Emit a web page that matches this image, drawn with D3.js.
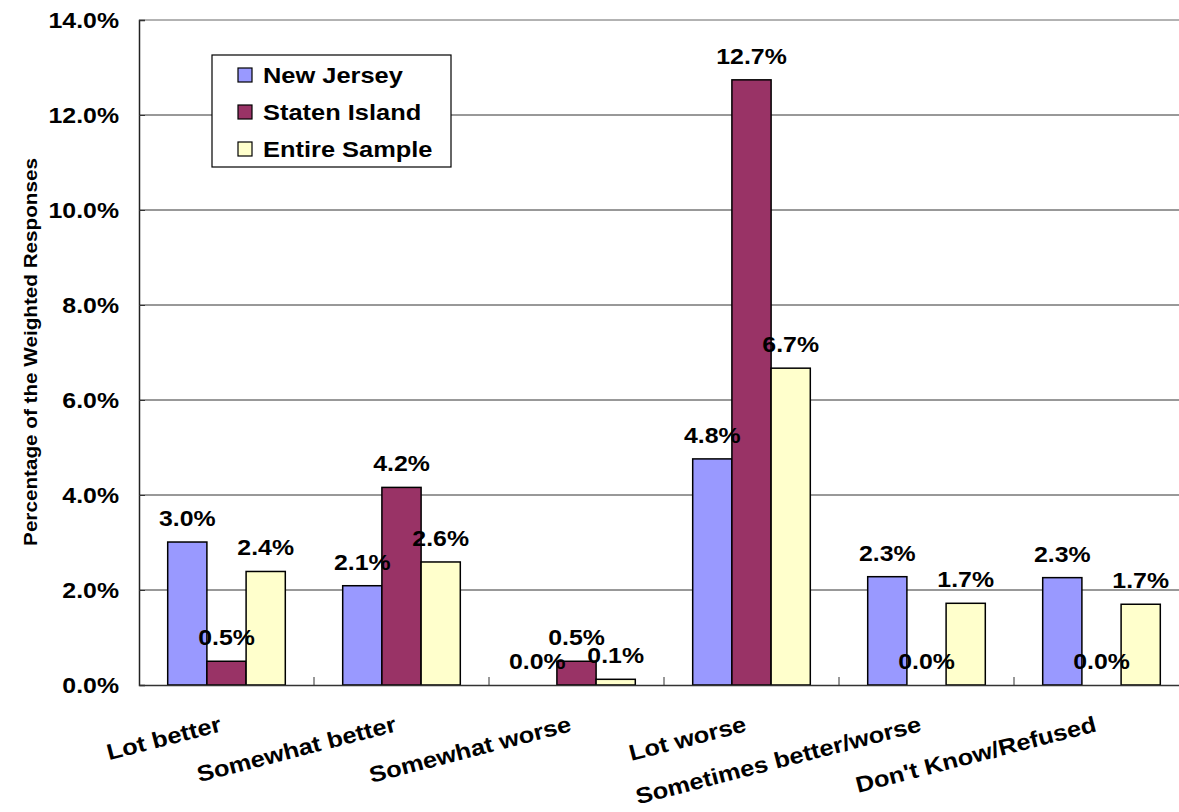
<!DOCTYPE html>
<html><head><meta charset="utf-8">
<script src="https://cdn.jsdelivr.net/npm/d3@7"></script>
<style>body{margin:0;background:#fff}svg{display:block}text{font-family:"Liberation Sans",Arial,sans-serif;font-weight:bold;fill:#000}</style>
</head><body>
<script>
const categories = ["Lot better","Somewhat better","Somewhat worse","Lot worse","Sometimes better/worse","Don't Know/Refused"];
const seriesNames = ["New Jersey","Staten Island","Entire Sample"];
const newJersey = [3.01, 2.09, 0.0, 4.76, 2.28, 2.26];
const statenIsland = [0.5, 4.16, 0.5, 12.74, 0.0, 0.0];
const entireSample = [2.39, 2.59, 0.12, 6.67, 1.72, 1.70];
const colors = ["#9999FF","#993366","#FFFFCC"];
const yTicks = [0,2,4,6,8,10,12,14];
const yTitle = "Percentage of the Weighted Responses";

const W=1179,H=812, SX=1.13, FS=22;
const svg=d3.select("body").append("svg").attr("width",W).attr("height",H);
const x=d3.scaleBand().domain(categories).range([139,139+6*175]);
const xs=d3.scaleBand().domain(seriesNames).range([28.7,146.3]);
const y=d3.scaleLinear().domain([0,14]).range([685,20]);
const seriesVals=[newJersey,statenIsland,entireSample];

function stext(g,px,py,str,anchor,size,rot){
  const gg=g.append("g").attr("transform",`translate(${px},${py})`+(rot?` rotate(${rot})`:""));
  gg.append("text").attr("transform",`scale(${SX},1)`).attr("text-anchor",anchor).style("font-size",size+"px").text(str);
  return gg;
}

// gridlines
svg.append("g").selectAll("line").data(yTicks.filter(d=>d>0)).join("line")
  .attr("x1",139).attr("x2",W).attr("y1",d=>y(d)).attr("y2",d=>y(d))
  .attr("stroke",d=>d===14?"#666":"#333").attr("stroke-width",1);

// y axis
const ya=svg.append("g").attr("transform","translate(139,0)").call(d3.axisLeft(y).tickValues(yTicks).tickSize(-6).tickFormat(""));
ya.select(".domain").attr("stroke","#222").attr("stroke-width",1.5);
ya.selectAll(".tick line").attr("stroke","#333");
yTicks.forEach(t=>stext(svg,119,y(t)+8,t.toFixed(1)+"%","end",FS));

// bars
seriesVals.forEach((vals,si)=>{
  svg.append("g").selectAll("rect").data(vals.map((v,i)=>({v,c:categories[i]}))).join("rect")
    .attr("x",d=>x(d.c)+xs(seriesNames[si])).attr("width",xs.bandwidth())
    .attr("y",d=>y(d.v)).attr("height",d=>y(0)-y(d.v))
    .attr("fill",colors[si]).attr("stroke","#000").attr("stroke-width",1.5);
});

// x axis
const xa=svg.append("g").attr("transform","translate(0,685)").call(d3.axisBottom(x).tickSize(0).tickFormat(""));
xa.select(".domain").attr("stroke","#333").attr("stroke-width",1.5);
svg.append("g").selectAll("line").data(d3.range(1,7)).join("line")
  .attr("x1",i=>139+i*175).attr("x2",i=>139+i*175).attr("y1",685).attr("y2",677).attr("stroke","#333");
categories.forEach(c=>stext(svg,x(c)+x.bandwidth()/2-4,731,c,"end",22.5,-14.5));

// value labels
seriesVals.forEach((vals,si)=>{
  vals.forEach((v,i)=>{
    const cx=x(categories[i])+xs(seriesNames[si])+xs.bandwidth()/2;
    stext(svg,cx,y(v)-16,v.toFixed(1)+"%","middle",FS);
  });
});

// y title
stext(svg,37,352,yTitle,"middle",18.3,-90);

// legend
const lg=svg.append("g");
lg.append("rect").attr("x",212).attr("y",55).attr("width",239).attr("height",112).attr("fill","#fff").attr("stroke","#000").attr("stroke-width",1.2);
seriesNames.forEach((s,i)=>{
  const cy=75+i*37;
  lg.append("rect").attr("x",238).attr("y",cy-7).attr("width",14).attr("height",14).attr("fill",colors[i]).attr("stroke","#000").attr("stroke-width",1.2);
  stext(lg,263,cy+8,s,"start",22.5);
});
</script>
</body></html>
